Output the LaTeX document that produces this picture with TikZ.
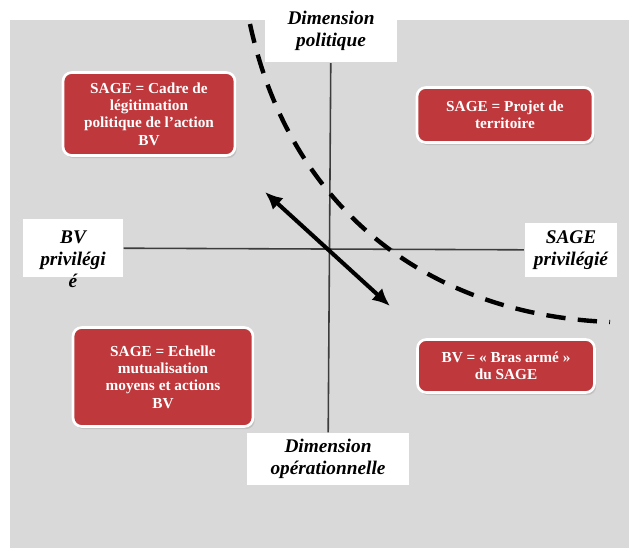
\documentclass[tikz,border=0pt]{standalone}
\usepackage{fontspec}
\setmainfont{Liberation Serif}
\usepackage{xcolor}
\usetikzlibrary{shadows, arrows.meta}
\definecolor{sagered}{RGB}{190,56,60}
\definecolor{panel}{RGB}{217,217,217}
\definecolor{axis}{RGB}{60,60,60}
\tikzstyle{red box}=[
        draw = white,
        line width = 1.5pt,
        fill = sagered,
        rounded corners = 5pt,
        text = white,
        align = center,
        font = \bfseries\fontsize{8.7}{9.9}\selectfont,
        drop shadow = {opacity = 0.25, shadow xshift = 1pt, shadow yshift = -1.5pt}
    ]
\tikzstyle{axis label}=[
    fill = white,
    align = center,
    inner sep = 0pt,
    font = \bfseries\itshape\fontsize{11}{12.5}\selectfont
]
\begin{document}
\begin{tikzpicture}[x=0.02cm, y=-0.02cm, thick]
        \useasboundingbox (0,0) rectangle (629,548);
        \fill[panel] (10,20) rectangle (629,548);

        % axis labels
        \node[axis label, minimum width=2.64cm, minimum height=1.26cm] (pol) at (331,31) {Dimension\\politique};
        \node[axis label, minimum width=3.26cm, minimum height=1.04cm] (oper) at (328,459) {Dimension\\opérationnelle};
        \node[axis label, minimum width=2cm, minimum height=1.18cm, text depth=0pt] (bvp) at (73,248) {};
        \node[font=\bfseries\itshape\fontsize{11}{12.5}\selectfont, align=center] (bvt) at (73,259) {BV\\privilégi\\é};
        \node[axis label, minimum width=1.86cm, minimum height=1.1cm] (sagep) at (571,250) {SAGE\\privilégié};

        \draw[axis, line width=0.9pt] (pol) -- (oper);
        \draw[axis, line width=0.9pt] (bvp) -- (sagep);

        % the four quadrants
        \node[red box, minimum width=3.44cm, minimum height=1.66cm] (legit) at (149,114) {SAGE = Cadre de\\légitimation\\politique de l’action\\BV};
        \node[red box, minimum width=3.52cm, minimum height=1.1cm] (projet) at (505,115) {SAGE = Projet de\\territoire};
        \node[red box, minimum width=3.6cm, minimum height=1.98cm] (echelle) at (163,377) {SAGE = Echelle\\mutualisation\\moyens et actions\\BV};
        \node[red box, minimum width=3.54cm, minimum height=1.06cm] (bras) at (506,366) {BV = « Bras armé »\\du SAGE};

        % tension between the two poles
        \coordinate (up) at (265,192);
        \coordinate (down) at (390,306);
        \draw[{Latex[length=10pt,width=9pt]}-{Latex[length=10pt,width=9pt]}, line width=2.3pt] (up) -- (down);

        \coordinate (c1) at (250,24);
        \coordinate (c2) at (610,322);
        \draw[line width=2.5pt, dash pattern=on 11pt off 7pt] (c1) .. controls (290,210) and (430,315) .. (c2);

    \end{tikzpicture}
\end{document}
